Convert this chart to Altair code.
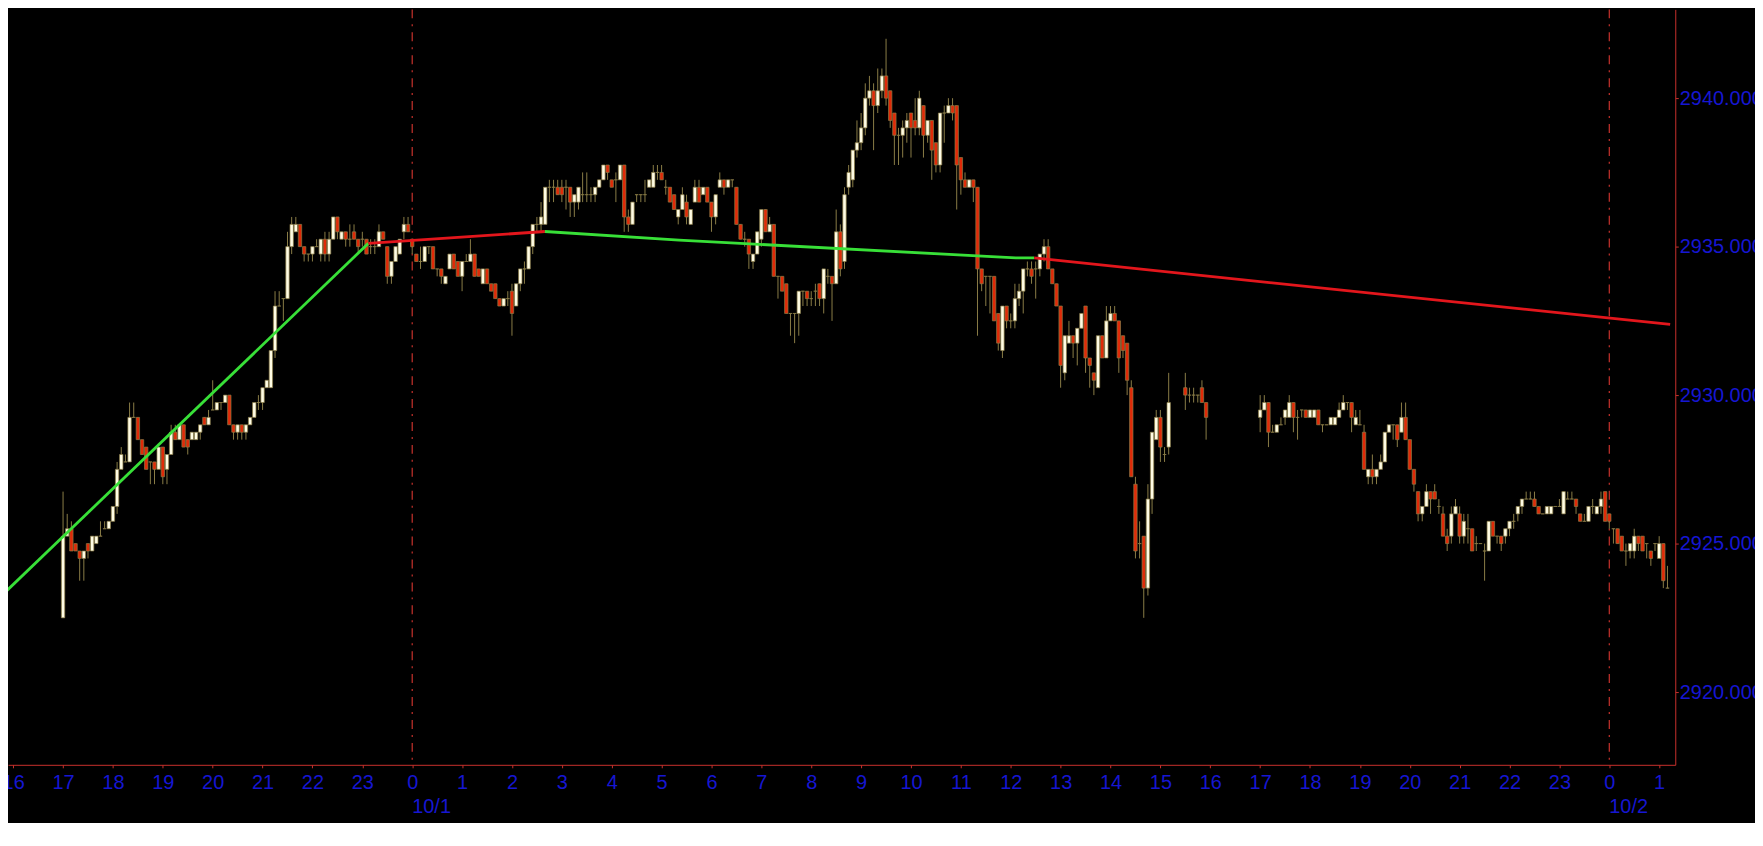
import altair as alt
import pandas as pd

# ES 5-minute bars. Session 1: 9/30 17:00 -> 10/1 15:10, one line per hour
s1_open = [
    2922.5, 2925.25, 2925.5, 2925.0, 2924.75, 2924.5, 2925.0, 2924.75, 2925.0, 2925.25, 2925.5, 2925.5,
    2925.75, 2926.25, 2927.5, 2927.75, 2927.75, 2929.25, 2929.25, 2928.5, 2928.25, 2927.75, 2927.75, 2927.5,
    2928.25, 2927.5, 2928.0, 2928.75, 2928.5, 2929.0, 2928.5, 2928.5, 2928.5, 2928.75, 2929.25, 2929.0,
    2929.5, 2929.5, 2929.75, 2929.75, 2930.0, 2929.0, 2928.75, 2929.0, 2928.75, 2929.0, 2929.25, 2929.75,
    2929.75, 2930.25, 2930.25, 2931.5, 2933.0, 2933.25, 2933.25, 2935.0, 2935.5, 2935.75, 2935.0, 2934.75,
    2934.75, 2935.0, 2934.75, 2935.25, 2934.75, 2935.25, 2936.0, 2935.25, 2935.5, 2935.25, 2935.5, 2935.25,
    2935.25, 2935.25, 2935.0, 2935.0, 2935.0, 2935.5, 2935.0, 2934.0, 2934.5, 2934.75, 2935.5, 2935.75,
    2935.25, 2934.75, 2934.5, 2934.5, 2935.0, 2935.0, 2934.25, 2934.25, 2933.75, 2934.25, 2934.75, 2934.5,
    2934.0, 2934.5, 2934.5, 2934.75, 2934.25, 2933.75, 2934.25, 2933.75, 2933.75, 2933.25, 2933.0, 2933.25,
    2933.5, 2933.0, 2933.75, 2934.25, 2934.25, 2935.0, 2935.75, 2935.75, 2935.75, 2937.0, 2937.0, 2937.0,
    2937.0, 2937.0, 2937.0, 2936.5, 2936.5, 2936.75, 2936.75, 2936.75, 2936.75, 2937.0, 2937.25, 2937.75,
    2937.25, 2937.25, 2937.25, 2937.75, 2936.0, 2935.75, 2936.75, 2936.75, 2936.75, 2937.0, 2937.0, 2937.5,
    2937.5, 2937.0, 2937.0, 2936.75, 2936.0, 2936.25, 2936.5, 2935.75, 2936.5, 2937.0, 2936.75, 2937.0,
    2936.5, 2936.0, 2937.0, 2937.25, 2937.0, 2937.25, 2937.0, 2935.75, 2935.25, 2935.25, 2934.5, 2934.75,
    2935.25, 2936.25, 2935.5, 2935.75, 2934.0, 2934.0, 2933.75, 2932.75, 2932.75, 2932.75, 2933.5, 2933.5,
    2933.25, 2933.5, 2933.75, 2933.25, 2934.0, 2934.0, 2933.75, 2935.5, 2934.5, 2937.0, 2937.25, 2938.25,
    2938.5, 2939.0, 2940.0, 2940.25, 2939.75, 2940.25, 2940.75, 2940.25, 2939.5, 2938.75, 2938.75, 2939.0,
    2939.5, 2939.25, 2939.0, 2939.75, 2938.75, 2939.25, 2938.5, 2937.75, 2939.5, 2939.5, 2939.75, 2939.75,
    2938.0, 2937.25, 2937.0, 2937.25, 2937.0, 2934.25, 2934.0, 2934.0, 2934.0, 2932.75, 2931.5, 2933.0,
    2932.5, 2932.5, 2933.25, 2933.5, 2934.25, 2934.25, 2934.25, 2934.25, 2934.75, 2935.0, 2934.25, 2933.75,
    2933.0, 2930.75, 2931.75, 2932.0, 2931.75, 2932.25, 2933.0, 2931.25, 2930.75, 2930.25, 2932.0, 2931.25,
    2932.5, 2932.75, 2932.5, 2932.0, 2931.75, 2930.25, 2927.0, 2925.0, 2925.25, 2923.5, 2926.5, 2928.5,
    2929.25, 2928.0, 2928.25,
]
s1_high = [
    2926.75, 2926.0, 2925.75, 2925.0, 2924.75, 2924.75, 2925.0, 2925.25, 2925.25, 2925.75, 2925.75, 2925.75,
    2926.25, 2927.75, 2928.25, 2928.0, 2929.75, 2929.75, 2929.25, 2928.5, 2928.25, 2927.75, 2927.75, 2928.25,
    2928.25, 2928.0, 2929.0, 2929.0, 2929.0, 2929.0, 2928.5, 2928.75, 2928.75, 2929.0, 2929.25, 2929.5,
    2930.5, 2929.75, 2929.75, 2930.0, 2930.0, 2929.0, 2929.0, 2929.0, 2929.0, 2929.25, 2929.75, 2930.0,
    2930.25, 2930.5, 2931.5, 2933.5, 2933.5, 2933.25, 2935.5, 2936.0, 2936.0, 2935.75, 2935.0, 2934.75,
    2935.0, 2935.25, 2935.25, 2935.5, 2935.5, 2936.0, 2936.0, 2935.5, 2935.5, 2935.75, 2935.75, 2935.25,
    2935.5, 2935.25, 2935.25, 2935.25, 2935.75, 2935.5, 2935.0, 2934.5, 2935.0, 2935.25, 2936.0, 2936.0,
    2935.25, 2934.75, 2935.0, 2935.0, 2935.0, 2935.0, 2934.25, 2934.25, 2934.0, 2934.75, 2934.75, 2934.5,
    2934.5, 2934.75, 2935.25, 2934.75, 2934.25, 2934.25, 2934.25, 2933.75, 2933.75, 2933.25, 2933.25, 2933.5,
    2933.75, 2933.75, 2934.25, 2934.5, 2935.0, 2935.75, 2936.0, 2936.5, 2937.0, 2937.25, 2937.25, 2937.25,
    2937.25, 2937.25, 2937.0, 2936.75, 2937.0, 2937.5, 2937.5, 2937.0, 2937.0, 2937.25, 2937.75, 2937.75,
    2937.25, 2937.5, 2937.75, 2937.75, 2936.25, 2936.5, 2936.75, 2936.75, 2937.25, 2937.25, 2937.75, 2937.75,
    2937.75, 2937.25, 2937.0, 2936.75, 2936.25, 2937.0, 2936.75, 2936.25, 2937.25, 2937.25, 2937.0, 2937.0,
    2936.5, 2936.75, 2937.5, 2937.25, 2937.25, 2937.25, 2937.0, 2935.75, 2935.5, 2935.25, 2934.75, 2935.5,
    2936.25, 2936.25, 2936.0, 2935.75, 2934.0, 2934.0, 2933.75, 2932.75, 2932.75, 2933.5, 2933.5, 2933.5,
    2933.5, 2933.75, 2933.75, 2934.25, 2934.25, 2934.0, 2936.25, 2935.75, 2937.0, 2937.75, 2938.25, 2939.25,
    2939.5, 2940.5, 2940.75, 2940.5, 2941.0, 2941.0, 2942.0, 2940.25, 2939.5, 2939.0, 2939.25, 2939.5,
    2939.5, 2940.0, 2940.25, 2939.75, 2939.25, 2939.25, 2938.5, 2939.5, 2939.75, 2940.0, 2940.0, 2939.75,
    2938.0, 2937.5, 2937.25, 2937.25, 2937.0, 2934.25, 2934.0, 2934.0, 2934.0, 2932.75, 2933.0, 2933.0,
    2932.75, 2933.75, 2933.75, 2934.25, 2934.5, 2934.5, 2934.5, 2934.75, 2935.25, 2935.25, 2934.25, 2933.75,
    2933.0, 2932.0, 2932.5, 2932.0, 2932.25, 2932.75, 2933.0, 2931.25, 2930.75, 2932.0, 2932.0, 2933.0,
    2933.0, 2933.0, 2932.5, 2932.0, 2931.75, 2930.5, 2927.25, 2925.75, 2925.25, 2927.0, 2928.75, 2929.5,
    2929.5, 2928.25, 2930.75,
]
s1_low = [
    2922.5, 2925.25, 2924.75, 2924.75, 2923.75, 2923.75, 2924.5, 2924.75, 2925.0, 2925.25, 2925.5, 2925.5,
    2925.75, 2926.0, 2927.5, 2927.75, 2927.75, 2929.25, 2928.5, 2928.0, 2927.5, 2927.0, 2927.0, 2927.5,
    2927.0, 2927.0, 2928.0, 2928.5, 2928.5, 2928.25, 2928.0, 2928.5, 2928.5, 2928.5, 2929.0, 2929.0,
    2929.5, 2929.5, 2929.5, 2929.75, 2929.0, 2928.5, 2928.5, 2928.5, 2928.5, 2929.0, 2929.25, 2929.5,
    2929.5, 2930.25, 2930.25, 2931.25, 2933.0, 2932.5, 2933.25, 2934.75, 2935.5, 2935.0, 2934.5, 2934.5,
    2934.5, 2935.0, 2934.5, 2934.5, 2934.5, 2935.25, 2935.25, 2935.25, 2935.0, 2935.0, 2935.25, 2934.75,
    2935.0, 2934.75, 2934.75, 2934.75, 2935.0, 2935.25, 2933.75, 2933.75, 2934.5, 2934.75, 2935.25, 2935.5,
    2934.75, 2934.5, 2934.25, 2934.5, 2934.75, 2934.25, 2934.0, 2933.75, 2933.75, 2934.25, 2934.25, 2934.0,
    2933.5, 2934.5, 2934.5, 2934.0, 2934.0, 2933.75, 2933.75, 2933.5, 2933.25, 2933.0, 2933.0, 2933.0,
    2932.0, 2933.0, 2933.5, 2933.75, 2934.25, 2934.75, 2935.5, 2935.5, 2935.75, 2936.5, 2936.5, 2936.75,
    2936.5, 2936.25, 2936.0, 2936.0, 2936.25, 2936.5, 2936.5, 2936.5, 2936.5, 2937.0, 2937.25, 2937.25,
    2937.0, 2936.5, 2937.25, 2935.5, 2935.5, 2935.75, 2936.5, 2936.5, 2936.5, 2937.0, 2937.0, 2937.25,
    2937.25, 2936.75, 2936.5, 2936.25, 2935.75, 2936.25, 2935.75, 2935.75, 2936.5, 2936.5, 2936.75, 2936.5,
    2935.5, 2935.75, 2937.0, 2936.75, 2937.0, 2937.0, 2935.75, 2935.25, 2935.0, 2934.25, 2934.25, 2934.75,
    2935.0, 2935.5, 2935.5, 2934.0, 2933.25, 2933.5, 2932.75, 2932.0, 2931.75, 2932.0, 2933.0, 2933.0,
    2933.0, 2933.0, 2933.0, 2932.75, 2933.75, 2932.5, 2933.75, 2934.0, 2934.25, 2936.75, 2937.0, 2938.0,
    2938.25, 2938.75, 2939.75, 2938.25, 2939.5, 2940.0, 2939.75, 2939.0, 2937.75, 2937.75, 2938.0, 2938.5,
    2938.0, 2938.75, 2938.75, 2938.0, 2938.5, 2937.25, 2937.5, 2937.5, 2938.5, 2939.5, 2939.25, 2936.25,
    2936.75, 2937.0, 2937.0, 2936.5, 2932.0, 2933.5, 2933.0, 2932.75, 2932.5, 2931.5, 2931.25, 2932.25,
    2932.25, 2932.25, 2933.0, 2932.75, 2934.0, 2933.75, 2933.25, 2934.0, 2934.5, 2934.25, 2933.75, 2933.0,
    2930.25, 2930.5, 2931.75, 2931.25, 2931.0, 2932.25, 2930.75, 2930.25, 2930.0, 2930.25, 2931.25, 2931.25,
    2932.5, 2932.5, 2930.75, 2931.25, 2930.0, 2927.25, 2924.5, 2924.5, 2922.5, 2923.25, 2926.0, 2928.5,
    2927.75, 2927.75, 2928.0,
]
s1_close = [
    2925.25, 2925.5, 2924.75, 2924.75, 2924.5, 2924.75, 2924.75, 2925.25, 2925.25, 2925.25, 2925.5, 2925.75,
    2926.25, 2927.5, 2928.0, 2927.75, 2929.25, 2929.25, 2928.5, 2928.0, 2927.5, 2927.75, 2927.5, 2928.25,
    2927.25, 2928.0, 2928.75, 2928.5, 2929.0, 2928.25, 2928.25, 2928.75, 2928.75, 2929.0, 2929.0, 2929.25,
    2929.5, 2929.75, 2929.75, 2930.0, 2929.0, 2928.75, 2929.0, 2928.75, 2929.0, 2929.25, 2929.75, 2929.75,
    2930.25, 2930.5, 2931.5, 2933.0, 2933.0, 2933.25, 2935.0, 2935.75, 2935.75, 2935.0, 2934.75, 2934.75,
    2935.0, 2935.0, 2935.25, 2934.75, 2935.25, 2936.0, 2935.5, 2935.5, 2935.25, 2935.25, 2935.25, 2935.0,
    2935.25, 2934.75, 2935.0, 2935.0, 2935.5, 2935.25, 2934.0, 2934.5, 2935.0, 2935.25, 2935.75, 2935.5,
    2935.0, 2934.5, 2934.5, 2935.0, 2935.0, 2934.25, 2934.25, 2934.0, 2934.0, 2934.75, 2934.25, 2934.0,
    2934.5, 2934.5, 2934.75, 2934.0, 2934.0, 2934.25, 2933.75, 2933.5, 2933.25, 2933.0, 2933.25, 2933.25,
    2932.75, 2933.75, 2934.25, 2934.25, 2935.0, 2935.75, 2935.75, 2936.0, 2937.0, 2937.0, 2937.0, 2936.75,
    2936.75, 2937.0, 2936.5, 2936.75, 2937.0, 2936.75, 2936.75, 2936.75, 2937.0, 2937.25, 2937.75, 2937.5,
    2937.0, 2937.25, 2937.75, 2936.0, 2935.75, 2936.5, 2936.75, 2936.75, 2936.75, 2937.25, 2937.5, 2937.5,
    2937.25, 2937.0, 2936.5, 2936.25, 2936.25, 2936.75, 2936.0, 2936.25, 2937.0, 2936.5, 2937.0, 2936.5,
    2936.0, 2936.75, 2937.25, 2937.0, 2937.25, 2937.25, 2935.75, 2935.25, 2935.25, 2934.75, 2934.75, 2935.5,
    2936.25, 2935.5, 2935.75, 2934.0, 2934.0, 2933.5, 2932.75, 2932.75, 2932.75, 2933.5, 2933.5, 2933.25,
    2933.25, 2933.5, 2933.25, 2934.25, 2934.0, 2933.75, 2935.5, 2934.25, 2936.75, 2937.5, 2938.25, 2938.5,
    2939.0, 2940.0, 2940.25, 2939.75, 2940.25, 2940.75, 2940.0, 2939.25, 2938.75, 2938.75, 2939.0, 2939.25,
    2939.0, 2939.0, 2940.0, 2938.75, 2939.25, 2938.25, 2937.75, 2939.5, 2939.5, 2939.75, 2939.5, 2937.75,
    2937.25, 2937.0, 2937.25, 2937.0, 2934.25, 2933.75, 2934.0, 2934.0, 2932.5, 2931.75, 2933.0, 2932.5,
    2932.5, 2933.25, 2933.5, 2934.25, 2934.25, 2934.0, 2934.25, 2934.75, 2935.0, 2934.25, 2933.75, 2933.0,
    2931.0, 2932.0, 2932.0, 2931.75, 2932.25, 2932.75, 2931.25, 2931.0, 2930.5, 2932.0, 2931.25, 2932.5,
    2932.75, 2932.5, 2931.25, 2931.5, 2930.5, 2927.25, 2924.75, 2925.0, 2923.5, 2926.5, 2928.75, 2929.25,
    2928.25, 2928.0, 2929.75,
]

# Session 2: 10/1 15:30 -> 15:55
s2_open = [2930.25, 2930.0, 2930.0, 2930.0, 2930.25, 2929.75]
s2_high = [2930.75, 2930.25, 2930.25, 2930.0, 2930.5, 2929.75]
s2_low = [2929.5, 2929.75, 2929.75, 2929.75, 2929.75, 2928.5]
s2_close = [2930.0, 2930.0, 2930.0, 2930.0, 2929.75, 2929.25]

# Session 3: 10/1 17:00 -> 10/2 01:10
s3_open = [
    2929.25, 2929.5, 2929.75, 2928.75, 2928.75, 2929.0, 2929.25, 2929.25, 2929.75, 2929.25, 2929.5, 2929.5,
    2929.25, 2929.25, 2929.5, 2929.0, 2929.0, 2929.0, 2929.0, 2929.25, 2929.5, 2929.75, 2929.75, 2929.0,
    2929.0, 2928.75, 2927.25, 2927.5, 2927.25, 2927.5, 2927.75, 2928.75, 2929.0, 2929.0, 2928.75, 2929.25,
    2928.5, 2927.5, 2926.75, 2926.0, 2926.25, 2926.75, 2926.75, 2926.25, 2926.0, 2925.25, 2925.25, 2926.0,
    2926.0, 2925.25, 2925.5, 2925.5, 2925.0, 2925.0, 2924.75, 2924.75, 2925.75, 2925.25, 2925.25, 2925.25,
    2925.5, 2925.75, 2926.0, 2926.25, 2926.5, 2926.5, 2926.5, 2926.25, 2926.0, 2926.0, 2926.0, 2926.25,
    2926.25, 2926.0, 2926.5, 2926.5, 2926.5, 2926.0, 2925.75, 2925.75, 2926.25, 2926.0, 2926.25, 2926.75,
    2926.0, 2925.5, 2925.5, 2925.25, 2924.75, 2924.75, 2924.75, 2925.25, 2925.25, 2925.0, 2924.75, 2925.0,
    2924.5, 2925.0, 2923.5,
]
s3_high = [
    2930.0, 2930.0, 2929.75, 2929.0, 2929.0, 2929.25, 2929.5, 2930.0, 2929.75, 2929.5, 2929.5, 2929.5,
    2929.5, 2929.5, 2929.5, 2929.0, 2929.0, 2929.25, 2929.25, 2929.75, 2930.0, 2929.75, 2929.75, 2929.5,
    2929.5, 2929.0, 2927.5, 2928.0, 2927.5, 2928.0, 2928.75, 2929.0, 2929.0, 2929.0, 2929.75, 2929.75,
    2928.5, 2927.5, 2926.75, 2926.25, 2927.0, 2926.75, 2927.0, 2926.5, 2926.25, 2925.5, 2926.25, 2926.5,
    2926.25, 2926.0, 2926.0, 2925.5, 2925.25, 2925.0, 2925.0, 2925.75, 2925.75, 2925.25, 2925.25, 2925.5,
    2925.75, 2926.0, 2926.25, 2926.5, 2926.75, 2926.75, 2926.75, 2926.25, 2926.0, 2926.25, 2926.25, 2926.25,
    2926.5, 2926.75, 2926.75, 2926.75, 2926.5, 2926.0, 2926.0, 2926.25, 2926.5, 2926.25, 2926.75, 2926.75,
    2926.0, 2925.5, 2925.5, 2925.25, 2925.0, 2925.0, 2925.5, 2925.25, 2925.25, 2925.0, 2924.75, 2925.0,
    2925.25, 2925.0, 2924.25,
]
s3_low = [
    2928.75, 2929.5, 2928.25, 2928.75, 2928.75, 2929.0, 2929.0, 2929.25, 2928.75, 2928.5, 2929.25, 2929.25,
    2929.25, 2929.25, 2929.0, 2928.75, 2929.0, 2929.0, 2929.0, 2929.25, 2929.5, 2929.5, 2928.75, 2929.0,
    2929.0, 2927.5, 2927.0, 2927.0, 2927.0, 2927.5, 2927.75, 2928.75, 2928.5, 2928.25, 2928.75, 2928.5,
    2927.5, 2926.75, 2925.75, 2925.75, 2926.25, 2926.0, 2926.5, 2926.0, 2925.25, 2924.75, 2925.0, 2926.0,
    2925.0, 2925.0, 2925.0, 2924.75, 2924.75, 2925.0, 2923.75, 2924.75, 2925.25, 2925.0, 2924.75, 2925.0,
    2925.25, 2925.5, 2925.75, 2926.0, 2926.5, 2926.5, 2926.25, 2926.0, 2926.0, 2926.0, 2926.0, 2926.25,
    2926.25, 2926.0, 2926.5, 2926.5, 2926.0, 2925.75, 2925.75, 2925.75, 2926.0, 2926.0, 2926.0, 2925.75,
    2925.5, 2925.0, 2925.0, 2924.75, 2924.25, 2924.5, 2924.5, 2924.75, 2924.75, 2924.5, 2924.25, 2924.75,
    2924.5, 2923.5, 2923.5,
]
s3_close = [
    2929.5, 2929.75, 2928.75, 2928.75, 2929.0, 2929.0, 2929.5, 2929.75, 2929.25, 2929.25, 2929.5, 2929.25,
    2929.5, 2929.5, 2929.0, 2929.0, 2929.0, 2929.25, 2929.25, 2929.5, 2929.75, 2929.75, 2929.25, 2929.25,
    2929.0, 2927.5, 2927.5, 2927.25, 2927.5, 2927.75, 2928.75, 2929.0, 2929.0, 2928.5, 2929.25, 2928.5,
    2927.5, 2927.0, 2926.0, 2926.25, 2926.75, 2926.5, 2926.5, 2926.25, 2925.25, 2925.0, 2926.0, 2926.25,
    2925.25, 2925.75, 2925.5, 2924.75, 2925.0, 2925.0, 2924.75, 2925.75, 2925.25, 2925.25, 2925.0, 2925.5,
    2925.75, 2925.75, 2926.25, 2926.5, 2926.5, 2926.5, 2926.25, 2926.0, 2926.0, 2926.25, 2926.25, 2926.25,
    2926.25, 2926.75, 2926.5, 2926.5, 2926.25, 2925.75, 2925.75, 2926.25, 2926.25, 2926.25, 2926.5, 2925.75,
    2925.75, 2925.5, 2925.0, 2924.75, 2924.75, 2925.0, 2925.25, 2925.0, 2924.75, 2925.0, 2924.5, 2925.0,
    2925.0, 2923.75, 2923.5,
]
session_starts = ["2018-09-30 17:00", "2018-10-01 15:30", "2018-10-01 17:00"]

# trend line, hours from 10/1 00:00
line_hour = [-8.163, -0.88, -0.88, 2.66, 2.66, 5.35, 12.1, 12.47, 12.47, 25.22]
line_price = [2923.36, 2935.11, 2935.11, 2935.51, 2935.51, 2935.22, 2934.62, 2934.62, 2934.62, 2932.38]
line_segment = [0, 0, 1, 1, 2, 2, 2, 2, 3, 3]
line_state = ["buy", "buy", "sell", "sell", "buy", "buy", "buy", "buy", "sell", "sell"]

day_hour = [0, 24]
day_label = ["10/1", "10/2"]

price_ticks = [2920, 2925, 2930, 2935, 2940]

FONT = "Liberation Sans"
BLUE = "#1616d2"
AXIS_RED = "#c8302c"
OLIVE = "#8a7c46"


def session(start, o, h, l, c):
    t = pd.date_range(start, periods=len(o), freq="5min")
    df = pd.DataFrame({"open": o, "high": h, "low": l, "close": c})
    df["hour"] = (t - pd.Timestamp("2018-10-01")) / pd.Timedelta(hours=1)
    return df


bars = pd.concat([
    session(session_starts[0], s1_open, s1_high, s1_low, s1_close),
    session(session_starts[1], s2_open, s2_high, s2_low, s2_close),
    session(session_starts[2], s3_open, s3_high, s3_low, s3_close),
], ignore_index=True)
bars["side"] = ["up" if c >= o else "down" for o, c in zip(bars["open"], bars["close"])]

trend = pd.DataFrame({"hour": line_hour, "price": line_price,
                      "segment": line_segment, "state": line_state})
days = pd.DataFrame({"hour": day_hour, "label": day_label})

x_scale = alt.Scale(domain=[-8.004, 25.223], nice=False, zero=False)
y_scale = alt.Scale(domain=[2917.55, 2942.99], nice=False, zero=False)

x_axis = alt.Axis(
    values=list(range(-8, 26)),
    labelExpr="'' + ((datum.value % 24 + 24) % 24)",
    title=None, grid=False,
    domainColor=AXIS_RED, tickColor=AXIS_RED, tickSize=3,
    labelColor=BLUE, labelFont=FONT, labelFontSize=20, labelPadding=5,
    labelFlush=False, labelOverlap=False,
)
y_axis = alt.Axis(
    orient="right", values=price_ticks, format=".3f",
    title=None, grid=False,
    domainColor=AXIS_RED, tickColor=AXIS_RED, tickSize=3,
    labelColor=BLUE, labelFont=FONT, labelFontSize=20, labelPadding=1,
    labelFlush=False, labelOverlap=False,
)

X = alt.X("hour:Q", scale=x_scale, axis=x_axis)

# period separators at midnight
day_rules = alt.Chart(days).mark_rule(
    color="#c8322c", strokeWidth=1.2, strokeDash=[9, 6, 2, 6]
).encode(x=X)

wicks = alt.Chart(bars).mark_rule(color=OLIVE, strokeWidth=1).encode(
    x=X,
    y=alt.Y("low:Q", scale=y_scale, axis=y_axis),
    y2="high:Q",
)

bodies = alt.Chart(bars).mark_bar(size=3.4, stroke=OLIVE, strokeWidth=0.7).encode(
    x=X,
    y=alt.Y("open:Q", scale=y_scale, axis=y_axis),
    y2="close:Q",
    fill=alt.Fill("side:N", scale=alt.Scale(domain=["up", "down"],
                                            range=["#fffce4", "#e02a08"]), legend=None),
)

line = alt.Chart(trend).mark_line(strokeWidth=2.8, clip=True).encode(
    x=X,
    y=alt.Y("price:Q", scale=y_scale, axis=y_axis),
    detail="segment:N",
    stroke=alt.Stroke("state:N", scale=alt.Scale(domain=["buy", "sell"],
                                                 range=["#38e038", "#e3161c"]), legend=None),
)

date_text = alt.Chart(days).mark_text(
    align="left", baseline="middle", color=BLUE, font=FONT, fontSize=20
).encode(x=X, y=alt.value(800), text="label:N")

chart = alt.layer(day_rules, wicks, bodies, line, date_text).properties(
    width=1673,
    height=758,
    background="black",
    padding={"left": 0, "top": 0, "right": 80, "bottom": 57},
    autosize=alt.AutoSizeParams(type="none"),
).configure_view(stroke=None)

chart.save("out.html", embed_options={"renderer": "svg", "actions": False})
